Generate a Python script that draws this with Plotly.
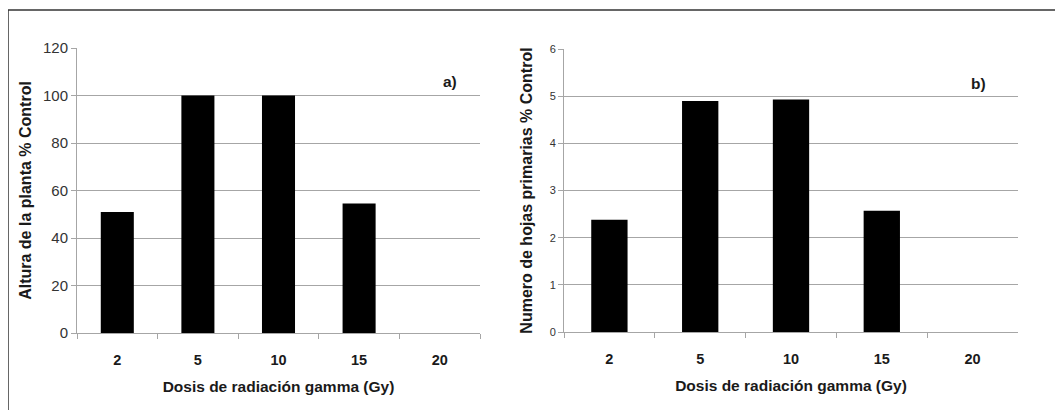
import plotly.graph_objects as go

categories = ["2", "5", "10", "15", "20"]
altura = [51, 100, 100, 54.5, 0]
hojas = [2.38, 4.9, 4.93, 2.57, 0]
left_ticks = [0, 20, 40, 60, 80, 100, 120]
left_ticktext = ["0", "20", "40", "60", "80", "100", "120"]
right_ticks = [0, 1, 2, 3, 4, 5, 6]
right_ticktext = ["0", "1", "2", "3", "4", "5", "6"]

W, H = 1063, 410
OFF = 8  # page body margin offset
def px(x):
    return (x - OFF) / W
def py(y):
    return 1 - (y - OFF) / H

fig = go.Figure()
fig.add_trace(go.Bar(x=categories, y=altura, marker=dict(color="black", line=dict(width=0)),
                     width=0.41, xaxis="x", yaxis="y", showlegend=False))
fig.add_trace(go.Bar(x=categories, y=hojas, marker=dict(color="black", line=dict(width=0)),
                     width=0.40, xaxis="x2", yaxis="y2", showlegend=False))

title_font = dict(family="Liberation Sans, Arial", size=15.5, color="#1a1a1a")
ytitle_font = dict(family="Liberation Sans, Arial", size=16, color="#1a1a1a")
cat_font = dict(family="Liberation Sans, Arial", size=14.5, color="#1a1a1a", weight="bold")
grid = "#a6a6a6"

common_x = dict(type="category", showgrid=False, showline=True, linecolor=grid, linewidth=1,
                ticks="outside", ticklen=5, tickcolor=grid, tickson="boundaries",
                tickfont=cat_font, ticklabelstandoff=14, fixedrange=True, automargin=False)
common_y = dict(showgrid=True, gridcolor=grid, gridwidth=1, showline=True, linecolor=grid,
                linewidth=1, ticks="outside", ticklen=5, tickcolor=grid, zeroline=False,
                fixedrange=True, automargin=False)

fig.update_layout(
    width=W, height=H,
    margin=dict(l=0, r=0, t=0, b=0),
    paper_bgcolor="white", plot_bgcolor="white",
    xaxis=dict(domain=[px(77), px(480)], anchor="y",
               title=dict(text="<b>Dosis de radiación gamma (Gy)</b>", font=title_font, standoff=13),
               **common_x),
    yaxis=dict(domain=[py(333), py(48)], anchor="x", range=[0, 120],
               tickvals=left_ticks, ticktext=left_ticktext,
               tickfont=dict(family="Liberation Sans, Arial", size=15, color="#333333"),
               title=dict(text="<b>Altura de la planta % Control</b>", font=ytitle_font, standoff=7),
               **common_y),
    xaxis2=dict(domain=[px(564), px(1018)], anchor="y2",
                title=dict(text="<b>Dosis de radiación gamma (Gy)</b>", font=title_font, standoff=13),
                **common_x),
    yaxis2=dict(domain=[py(332), py(49)], anchor="x2", range=[0, 6],
                tickvals=right_ticks, ticktext=right_ticktext,
                tickfont=dict(family="Liberation Sans, Arial", size=11, color="#333333"),
                title=dict(text="<b>Numero de hojas primarias % Control</b>", font=ytitle_font, standoff=13),
                **common_y),
    annotations=[
        dict(text="<b>a)</b>", x=px(450), y=py(71), xref="paper", yref="paper",
             showarrow=False, font=title_font),
        dict(text="<b>b)</b>", x=px(988), y=py(73), xref="paper", yref="paper",
             showarrow=False, font=title_font),
    ],
    shapes=[
        dict(type="line", xref="paper", yref="paper", x0=px(8), x1=1, y0=py(10), y1=py(10),
             line=dict(color="#333333", width=1.5)),
        dict(type="line", xref="paper", yref="paper", x0=px(8), x1=px(8), y0=py(10), y1=0,
             line=dict(color="#333333", width=1.5)),
    ],
)

fig.write_html("out.html")
